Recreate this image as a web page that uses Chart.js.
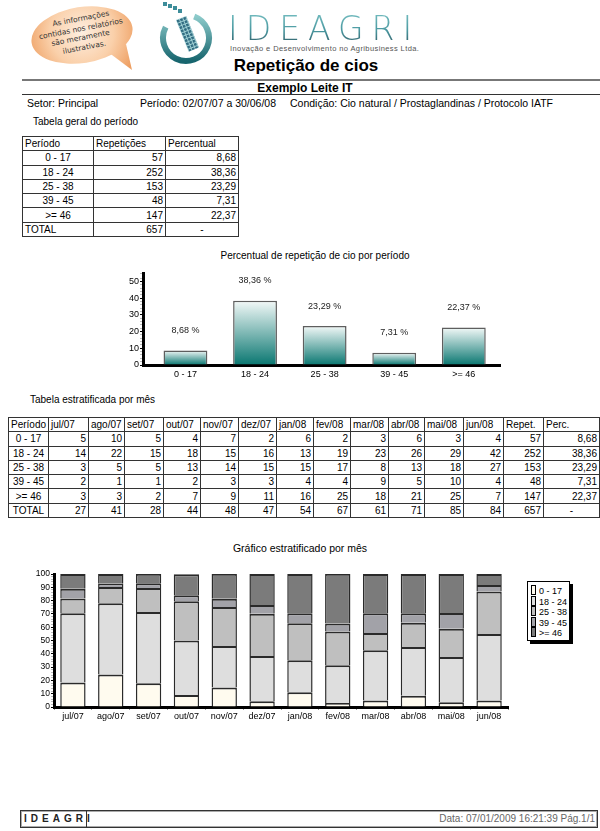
<!DOCTYPE html>
<html>
<head>
<meta charset="utf-8">
<script src="https://cdn.jsdelivr.net/npm/chart.js@4.4.1/dist/chart.umd.min.js"></script>
<style>
body{margin:0;background:#fff;font-family:"Liberation Sans",Arial,sans-serif;color:#000}
#pagina{position:relative;width:600px;height:831px;overflow:hidden}
.abs{position:absolute;white-space:nowrap}
table{border-collapse:collapse;table-layout:fixed;font-size:10px}
td{border:1px solid #333;padding:0 2px;height:13px;line-height:13px;white-space:nowrap;overflow:hidden}
td.n{text-align:right}
td.c{text-align:center}
.logo{font-family:"DejaVu Sans",sans-serif;font-weight:200;font-size:33px;letter-spacing:8px;background:linear-gradient(#7cc4c6 0%,#4a98a0 55%,#2a4f5a 100%);-webkit-background-clip:text;background-clip:text;color:transparent}
#legenda{border:1px solid #000;box-shadow:3px 3px 0 #000;background:#fff;font-size:9px;padding:3px 1px 2px 3px}
#legenda div{height:10.5px;line-height:10.5px}
#legenda span{display:inline-block;width:3px;height:8px;border:1px solid #000;margin-right:3px;vertical-align:-1px}
</style>
</head>
<body>
<div id="pagina">
  <!-- balão -->
  <svg class="abs" style="left:22px;top:0" width="140" height="82">
    <defs>
      <radialGradient id="balao" gradientUnits="userSpaceOnUse" cx="60" cy="33" r="58">
        <stop offset="0" stop-color="#fdeee0"/>
        <stop offset="0.55" stop-color="#fad0aa"/>
        <stop offset="1" stop-color="#ee9f62"/>
      </radialGradient>
    </defs>
    <g fill="url(#balao)">
      <ellipse cx="60" cy="35" rx="51" ry="28" transform="rotate(-9 60 35)"/>
      <polygon points="86,52 104,44 110,70"/>
    </g>
    <g font-family="DejaVu Sans" font-size="7.5" fill="#333" text-anchor="middle" transform="rotate(-11 60 35)">
      <text x="62" y="21">As informações</text>
      <text x="60" y="31">contidas nos relatórios</text>
      <text x="58" y="40">são meramente</text>
      <text x="60" y="50">ilustrativas.</text>
    </g>
  </svg>
  <!-- ícone -->
  <svg class="abs" style="left:158px;top:0" width="60" height="70">
    <defs>
      <pattern id="grade" width="3.5" height="3.5" patternUnits="userSpaceOnUse">
        <rect width="3.5" height="3.5" fill="#9fd0d4"/>
        <rect width="2.5" height="2.5" fill="#2f6a80"/>
      </pattern>
      <linearGradient id="arco" x1="0" y1="0" x2="0" y2="1">
        <stop offset="0" stop-color="#8ccaca"/>
        <stop offset="1" stop-color="#17656e"/>
      </linearGradient>
    </defs>
    <path d="M36.2 16.5 A23 23 0 1 1 7.7 27.2" fill="none" stroke="url(#arco)" stroke-width="6"/>
    <rect x="24" y="17" width="11" height="34" fill="url(#grade)" transform="rotate(-22 29 34)"/>
    <g fill="#3d8d9a">
      <rect x="5" y="2" width="4" height="4"/><rect x="10" y="4" width="4" height="4"/>
      <rect x="15" y="6" width="4" height="4"/><rect x="20" y="9" width="4" height="4"/>
    </g>
  </svg>
  <div class="abs logo" style="left:228px;top:9px">IDEAGRI</div>
  <div class="abs" style="left:230px;top:44px;font-size:7.5px;color:#555;letter-spacing:0.4px">Inovação e Desenvolvimento no Agribusiness Ltda.</div>

  <div class="abs" style="left:200px;top:56px;width:212px;text-align:center;font-size:17px;font-weight:bold">Repetição de cios</div>
  <div class="abs" style="left:22px;top:79px;width:578px;height:2px;background:#777"></div>
  <div class="abs" style="left:200px;top:81px;width:210px;text-align:center;font-size:12px;font-weight:bold">Exemplo Leite IT</div>
  <div class="abs" style="left:22px;top:94px;width:578px;height:1px;background:#333"></div>
  <div class="abs" style="left:27px;top:97px;font-size:10.5px">Setor: Principal</div>
  <div class="abs" style="left:140px;top:97px;font-size:10.5px">Período: 02/07/07 a 30/06/08</div>
  <div class="abs" style="left:290px;top:97px;font-size:10.5px">Condição: Cio natural / Prostaglandinas / Protocolo IATF</div>

  <div class="abs" style="left:33px;top:116px;font-size:10px">Tabela geral do período</div>
  <table class="abs" id="tabGeral" style="left:22px;top:136px;width:216px;height:101px">
    <colgroup><col style="width:71px"><col style="width:72px"><col style="width:73px"></colgroup>
    <tbody></tbody>
  </table>

  <div class="abs" style="left:160px;top:250px;width:310px;text-align:center;font-size:10px">Percentual de repetição de cio por período</div>
  <canvas class="abs" id="graf1" style="left:100px;top:265px" width="412" height="122"></canvas>

  <div class="abs" style="left:30px;top:394px;font-size:10px">Tabela estratificada por mês</div>
  <table class="abs" id="tabMes" style="left:8px;top:417px;width:591px;height:101px">
    <colgroup>
      <col style="width:40px"><col style="width:40px"><col style="width:36px"><col style="width:39px"><col style="width:37px">
      <col style="width:38px"><col style="width:38px"><col style="width:37px"><col style="width:37px"><col style="width:38px">
      <col style="width:36px"><col style="width:39px"><col style="width:40px"><col style="width:40px"><col style="width:56px">
    </colgroup>
    <tbody></tbody>
  </table>

  <div class="abs" style="left:150px;top:542px;width:300px;text-align:center;font-size:10.5px">Gráfico estratificado por mês</div>
  <canvas class="abs" id="graf2" style="left:10px;top:565px" width="502" height="165"></canvas>
  <div class="abs" id="legenda" style="left:527px;top:581px;width:37px"></div>

  <div class="abs" style="left:20px;top:810px;width:576px;height:16px;border:1px solid #333;box-shadow:0 0 0 1px #aaa inset">
    <div class="abs" style="left:0;top:0;width:62px;height:16px;border-right:1px solid #333;font-size:10px;font-weight:bold;line-height:16px;letter-spacing:4px;padding-left:3px;color:#222">IDEAGRI</div>
    <div class="abs" style="right:2px;top:0;line-height:16px;font-size:10px;color:#666">Data: 07/01/2009 16:21:39 Pág.1/1</div>
  </div>
</div>

<script>
// Tabela geral do período
const periodos = ['0 - 17', '18 - 24', '25 - 38', '39 - 45', '>= 46'];
const repeticoes = [57, 252, 153, 48, 147];
const percentual = [8.68, 38.36, 23.29, 7.31, 22.37];
const totalRepeticoes = 657;

// Tabela estratificada por mês (contagens)
const meses = ['jul/07', 'ago/07', 'set/07', 'out/07', 'nov/07', 'dez/07', 'jan/08', 'fev/08', 'mar/08', 'abr/08', 'mai/08', 'jun/08'];
const mes0a17 = [5, 10, 5, 4, 7, 2, 6, 2, 3, 6, 3, 4];
const mes18a24 = [14, 22, 15, 18, 15, 16, 13, 19, 23, 26, 29, 42];
const mes25a38 = [3, 5, 5, 13, 14, 15, 15, 17, 8, 13, 18, 27];
const mes39a45 = [2, 1, 1, 2, 3, 3, 4, 4, 9, 5, 10, 4];
const mes46 = [3, 3, 2, 7, 9, 11, 16, 25, 18, 21, 25, 7];
const totalMes = [27, 41, 28, 44, 48, 47, 54, 67, 61, 71, 85, 84];

// Gráfico estratificado (% do mês)
const pct0a17 = [18.5, 24.4, 17.9, 9.1, 14.6, 4.3, 11.1, 3.0, 4.9, 8.5, 3.5, 4.8];
const pct18a24 = [51.9, 53.7, 53.6, 40.9, 31.3, 34.0, 24.1, 28.4, 37.7, 36.6, 34.1, 50.0];
const pct25a38 = [11.1, 12.2, 17.9, 29.5, 29.2, 31.9, 27.8, 25.4, 13.1, 18.3, 21.2, 32.1];
const pct39a45 = [7.4, 2.4, 3.6, 4.5, 6.3, 6.4, 7.4, 6.0, 14.8, 7.0, 11.8, 4.8];
const pct46 = [11.1, 7.3, 7.1, 15.9, 18.8, 23.4, 29.6, 37.3, 29.5, 29.6, 29.4, 8.3];

// Rótulos dos eixos
const ticksPercentual = [0, 10, 20, 30, 40, 50];
const ticksEstratificado = [0, 10, 20, 30, 40, 50, 60, 70, 80, 90, 100];

const fonte = '"Liberation Sans", Arial, sans-serif';
const virgula = v => v.toFixed(2).replace('.', ',');

// Tabela geral
const corpoGeral = document.querySelector('#tabGeral tbody');
corpoGeral.insertRow().innerHTML = '<td>Período</td><td>Repetições</td><td>Percentual</td>';
periodos.forEach((p, i) => {
    corpoGeral.insertRow().innerHTML = `<td class="c">${p}</td><td class="n">${repeticoes[i]}</td><td class="n">${virgula(percentual[i])}</td>`;
});
corpoGeral.insertRow().innerHTML = `<td>TOTAL</td><td class="n">${totalRepeticoes}</td><td class="c">-</td>`;

// Tabela por mês
const linhasMes = [mes0a17, mes18a24, mes25a38, mes39a45, mes46];
const corpoMes = document.querySelector('#tabMes tbody');
corpoMes.insertRow().innerHTML = '<td>Período</td>' + meses.map(m => `<td>${m}</td>`).join('') + '<td>Repet.</td><td>Perc.</td>';
periodos.forEach((p, i) => {
    corpoMes.insertRow().innerHTML = `<td class="c">${p}</td>` + linhasMes[i].map(v => `<td class="n">${v}</td>`).join('') +
        `<td class="n">${repeticoes[i]}</td><td class="n">${virgula(percentual[i])}</td>`;
});
corpoMes.insertRow().innerHTML = '<td class="c">TOTAL</td>' + totalMes.map(v => `<td class="n">${v}</td>`).join('') +
    `<td class="n">${totalRepeticoes}</td><td class="c">-</td>`;

// Séries do gráfico estratificado + legenda
const series = [
    { label: '0 - 17', data: pct0a17, cor: '#fffbef' },
    { label: '18 - 24', data: pct18a24, cor: '#dedede' },
    { label: '25 - 38', data: pct25a38, cor: '#bfbfbf' },
    { label: '39 - 45', data: pct39a45, cor: '#a2a2a8' },
    { label: '>= 46', data: pct46, cor: '#7b7b7b' }
];
document.getElementById('legenda').innerHTML = series.map(s =>
    `<div><span style="background:${s.cor}"></span>${s.label}</div>`).join('');

// Gradiente de cada barra (claro em cima, verde-azulado embaixo)
function gradienteBarra(c) {
    const chart = c.chart;
    const y = chart.scales.y;
    if (!y || !c.raw) return '#3a9a96';
    const topo = y.getPixelForValue(c.raw.y);
    const base = y.getPixelForValue(0);
    if (!isFinite(topo) || !isFinite(base)) return '#3a9a96';
    const g = chart.ctx.createLinearGradient(0, topo, 0, base);
    g.addColorStop(0, '#f3f9f8');
    g.addColorStop(1, '#0a7771');
    return g;
}

// Rótulos "8,68 %" acima das barras
const rotulos = {
    id: 'rotulos',
    afterDatasetsDraw(chart) {
        const ctx = chart.ctx;
        ctx.save();
        ctx.font = '9px ' + fonte;
        ctx.fillStyle = '#222';
        ctx.textAlign = 'center';
        ctx.textBaseline = 'middle';
        chart.getDatasetMeta(0).data.forEach((bar, i) => {
            ctx.fillText(virgula(percentual[i]) + ' %', bar.x, bar.y - 20);
        });
        ctx.restore();
    }
};

new Chart(document.getElementById('graf1'), {
    type: 'bar',
    data: {
        datasets: [{
            data: percentual.map((v, i) => ({ x: i, y: v })),
            backgroundColor: gradienteBarra,
            borderColor: '#5e5e5e',
            borderWidth: 1.5,
            barPercentage: 0.63,
            categoryPercentage: 1
        }]
    },
    options: {
        responsive: false,
        animation: false,
        layout: { padding: { top: 8, right: 12, left: 0, bottom: 0 } },
        plugins: { legend: { display: false }, tooltip: { enabled: false } },
        scales: {
            x: {
                type: 'linear',
                min: -0.61, max: 4.52,
                offset: false,
                grid: { offset: false, drawOnChartArea: false, tickLength: 3, color: 'rgba(0,0,0,0)' },
                border: { color: '#000', width: 3 },
                ticks: {
                    stepSize: 1, autoSkip: false, padding: 1, maxRotation: 0,
                    font: { size: 9, family: fonte }, color: '#000',
                    callback: v => periodos[v]
                },
                afterBuildTicks(s) { s.ticks = s.ticks.filter(t => Number.isInteger(t.value)); },
                afterFit(s) { s.height = 22; }
            },
            y: {
                min: 0, max: 55,
                grid: { drawOnChartArea: false, tickLength: 3, color: c => ticksPercentual.includes(c.tick.value) ? '#000' : '#bbb' },
                border: { color: '#000', width: 3 },
                ticks: {
                    stepSize: 2, autoSkip: false, padding: 1,
                    font: { size: 9, family: fonte }, color: '#000',
                    callback: v => ticksPercentual.includes(v) ? v : ''
                },
                afterFit(s) { s.width = 43; }
            }
        }
    },
    plugins: [rotulos]
});

new Chart(document.getElementById('graf2'), {
    type: 'bar',
    data: {
        labels: meses,
        datasets: series.map(s => ({
            label: s.label,
            data: s.data,
            backgroundColor: s.cor,
            borderColor: '#2a2a2a',
            borderWidth: { top: 2, bottom: 0, left: 1.5, right: 1.5 },
            barPercentage: 0.67,
            categoryPercentage: 1
        }))
    },
    options: {
        responsive: false,
        animation: false,
        layout: { padding: { top: 9, right: 4, left: 0, bottom: 0 } },
        plugins: { legend: { display: false }, tooltip: { enabled: false } },
        scales: {
            x: {
                stacked: true,
                grid: { drawOnChartArea: false, tickLength: 3, color: '#999' },
                border: { color: '#000', width: 3 },
                ticks: { font: { size: 9, family: fonte }, color: '#000', padding: 1 },
                afterFit(s) { s.height = 23; }
            },
            y: {
                stacked: true,
                min: 0, max: 100,
                grid: { drawOnChartArea: false, tickLength: 3, color: c => ticksEstratificado.includes(c.tick.value) ? '#000' : '#bbb' },
                border: { color: '#000', width: 3 },
                ticks: {
                    stepSize: 2, autoSkip: false, padding: 1,
                    font: { size: 8.5, family: fonte }, color: '#000',
                    callback: v => ticksEstratificado.includes(v) ? v : ''
                },
                afterFit(s) { s.width = 44; }
            }
        }
    }
});
</script>
</body>
</html>
